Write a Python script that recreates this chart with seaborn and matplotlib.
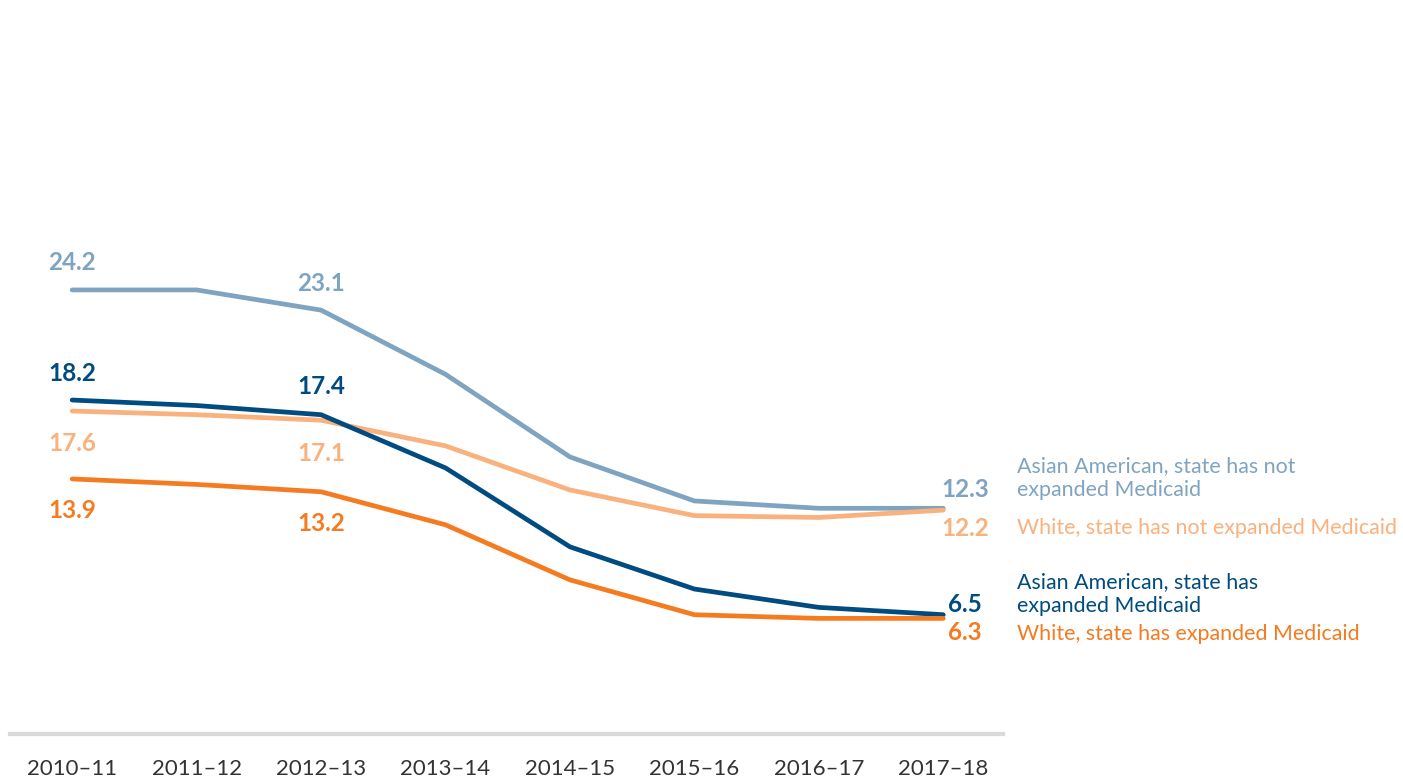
import matplotlib
matplotlib.use("Agg")
import matplotlib.pyplot as plt
import seaborn as sns
import pandas as pd

years = ["2010–11", "2011–12", "2012–13", "2013–14", "2014–15", "2015–16", "2016–17", "2017–18"]
asian_not = [24.2, 24.2, 23.1, 19.6, 15.1, 12.7, 12.3, 12.3]
white_not = [17.6, 17.4, 17.1, 15.7, 13.3, 11.9, 11.8, 12.2]
asian_exp = [18.2, 17.9, 17.4, 14.5, 10.2, 7.9, 6.9, 6.5]
white_exp = [13.9, 13.6, 13.2, 11.4, 8.4, 6.5, 6.3, 6.3]

series_names = [
    "Asian American, state has not\nexpanded Medicaid",
    "White, state has not expanded Medicaid",
    "Asian American, state has\nexpanded Medicaid",
    "White, state has expanded Medicaid",
]
series_values = [asian_not, white_not, asian_exp, white_exp]
colors = ["#7fa4c1", "#f9b17d", "#004b7f", "#f47b20"]

rows = []
for name, vals in zip(series_names, series_values):
    for i, v in enumerate(vals):
        rows.append({"x": i, "year": years[i], "value": v, "series": name})
df = pd.DataFrame(rows)

sns.set_theme(style="white")
plt.rcParams["font.family"] = ["Lato", "DejaVu Sans"]

fig = plt.figure(figsize=(14.03, 7.78), dpi=100)
ax = fig.add_axes([10 / 1403, 1 - 734 / 778, (1003 - 10) / 1403, 734 / 778])

sns.lineplot(data=df, x="x", y="value", hue="series", palette=colors,
             hue_order=series_names, linewidth=3.4, ax=ax, legend=False,
             estimator=None, sort=False)

ax.set_xlim(-0.5, 7.48)
ax.set_ylim(0, 40)
ax.set_xticks(range(len(years)))
ax.set_xticklabels(years, fontsize=16, color="#333333")
ax.tick_params(axis="x", length=0, pad=18)
ax.set_yticks([])
ax.set_xlabel("")
ax.set_ylabel("")
for s in ["top", "right", "left"]:
    ax.spines[s].set_visible(False)
ax.spines["bottom"].set_color("#d9dadb")
ax.spines["bottom"].set_linewidth(3)

# value labels: (series index, point index, pixel offset y)
label_specs = [
    (0, 0, 27), (0, 2, 27),
    (2, 0, 27), (2, 2, 28),
    (1, 0, -32), (1, 2, -33),
    (3, 0, -32), (3, 2, -32),
]
for si, pi, dy in label_specs:
    v = series_values[si][pi]
    ax.annotate(f"{v}", xy=(pi, v), xytext=(0, dy), textcoords="offset pixels",
                ha="center", va="center", fontsize=17.5, fontweight="bold",
                color=colors[si], annotation_clip=False)

end_offsets = [19, -18, 10, -14]
for si in range(4):
    v = series_values[si][-1]
    ax.annotate(f"{v}", xy=(7, v), xytext=(22, end_offsets[si]), textcoords="offset pixels",
                ha="center", va="center", fontsize=17.5, fontweight="bold",
                color=colors[si], annotation_clip=False)

legend_y = [478, 528, 594, 634]
for si in range(4):
    fig.text(1017 / 1403, 1 - legend_y[si] / 778, series_names[si], ha="left", va="center",
             fontsize=15.4, color=colors[si], linespacing=1.2)

fig.savefig("out.png", dpi=100)
